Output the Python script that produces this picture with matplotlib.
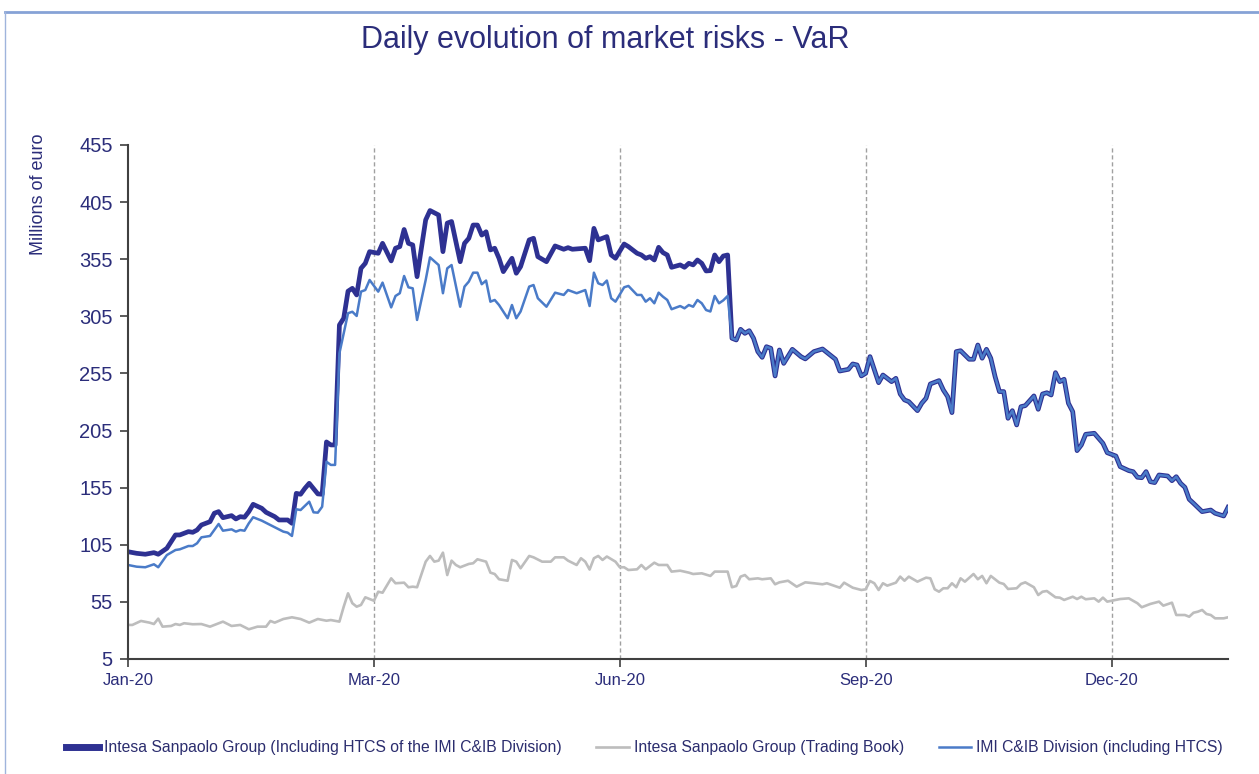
import matplotlib
matplotlib.use("Agg")
import matplotlib.pyplot as plt
from matplotlib.lines import Line2D

plt.rcParams['font.family'] = ['Liberation Sans', 'DejaVu Sans']

navy = '#2b2d7a'

# business-day index (0 = first day of 2020, 255 = last)
tick_days = [0, 57, 114, 171, 228]
tick_labels = ['Jan-20', 'Mar-20', 'Jun-20', 'Sep-20', 'Dec-20']
grid_days = [57, 114, 171, 228]

# Intesa Sanpaolo Group (incl. HTCS) - before mid-July
group_days = [0, 2, 4, 6, 7, 9, 10, 11, 12, 14, 15, 16, 17, 19, 20, 21, 22, 24, 25, 26,
              27, 28, 29, 31, 32, 34, 35, 37, 38, 39, 40, 41, 42, 44, 45, 46, 47, 48, 49, 50,
              51, 52, 53, 54, 55, 56, 58, 59, 61, 62, 63, 64, 65, 66, 67, 69, 70, 72, 73, 74,
              75, 77, 78, 79, 80, 81, 82, 83, 84, 85, 86, 87, 89, 90, 91, 93, 94, 95, 97, 99,
              101, 102, 103, 106, 107, 108, 109, 111, 112, 113, 115, 116, 118, 119, 120, 121,
              122, 123, 124, 125, 126, 128, 129, 130, 131, 132, 133, 134, 135, 136, 137, 138, 139]
group_vals = [98.9, 97.5, 96.7, 98.1, 96.7, 101.9, 107.7, 113.6, 113.6, 116.5, 115.9, 117.9,
              122.3, 125.2, 132.6, 134, 128.7, 130.5, 127.6, 129.6, 129.1, 134, 140.4, 136.9,
              133.4, 129.6, 126.7, 126.7, 123.8, 150, 149.2, 154.4, 158.8, 149.5, 149.2, 195,
              192.4, 192.4, 297.4, 303.3, 327, 329.5, 323.7, 347, 351.4, 361.6, 360.2, 368.9,
              353.5, 364.6, 366, 381, 368.9, 367.5, 339.7, 389.4, 397.6, 393.7, 361.6, 386.6,
              388, 352.8, 368.9, 373.3, 384.9, 384.9, 376.1, 379, 363.1, 364.6, 355.8, 344.1,
              355.8, 342.7, 348.5, 371.9, 373.3, 357.2, 352.8, 366.6, 363.7, 365.1, 363.7,
              364.6, 353.7, 382, 371.9, 374.8, 358.7, 355.8, 368.3, 366, 360.2, 358.7, 355.8,
              357.2, 354.3, 365.4, 360.8, 358.7, 347.9, 350, 347.9, 351.4, 350, 354.3, 351.4,
              344.7, 345, 358.7, 352.8, 357.8, 358.7]

# IMI C&IB Division (incl. HTCS) - before mid-July
imi_days = [0, 2, 4, 6, 7, 9, 11, 12, 14, 15, 16, 17, 19, 21, 22, 24, 25, 26, 27, 28,
            29, 31, 33, 35, 36, 37, 38, 39, 40, 42, 43, 44, 45, 46, 47, 48, 49, 50, 51, 52,
            53, 54, 55, 56, 58, 59, 61, 62, 63, 64, 65, 66, 67, 69, 70, 72, 73, 74, 75, 77,
            78, 79, 80, 81, 82, 83, 84, 85, 86, 88, 89, 90, 91, 93, 94, 95, 97, 99, 101, 102,
            104, 106, 107, 108, 109, 110, 111, 112, 113, 115, 116, 118, 119, 120, 121, 122,
            123, 124, 125, 126, 128, 129, 130, 131, 132, 133, 134, 135, 136, 137, 138, 139]
imi_vals = [87.3, 85.8, 85.3, 87.9, 85.3, 96, 100.4, 101, 103.9, 103.9, 106.3, 111.5, 112.7,
            123.2, 117.3, 118.5, 116.5, 117.9, 117.3, 123.8, 129.1, 126.1, 122.3, 118.5, 116.5,
            115.6, 112.7, 136.1, 135.4, 142.7, 133.4, 133.1, 138.3, 177.7, 174.9, 174.9, 272.6,
            290, 307.7, 309, 305.3, 326.6, 328, 336.8, 326.6, 334.5, 312.8, 322.8, 325.2, 340.3,
            330.4, 329.5, 301.8, 336.8, 356.6, 349.9, 325.2, 347, 349.9, 313.4, 331, 335.4,
            343.2, 343.2, 333.1, 336.3, 317.8, 319.3, 314.9, 303.3, 314.9, 303.3, 309.2, 331,
            332.4, 320.8, 313.4, 325.7, 323.7, 328, 325.2, 328, 314, 343.2, 333.9, 332.4, 336.3,
            320.8, 317.8, 330.4, 331.6, 323.7, 323.7, 317.8, 320.8, 316.4, 325.7, 322.2, 319.3,
            311.2, 314, 312, 314.9, 313.4, 319.3, 316.4, 310.5, 309.2, 322.8, 316.4, 319, 322.8]

# from mid-July on the two HTCS series coincide
tail_days = [140, 141, 142, 143, 144, 145, 146, 147, 148, 149, 150, 151, 152, 154, 156, 157,
             159, 161, 164, 165, 167, 168, 169, 170, 171, 172, 174, 175, 177, 178, 179, 180,
             181, 183, 184, 185, 186, 188, 189, 190, 191, 192, 193, 195, 196, 197, 198, 199,
             200, 201, 202, 203, 204, 205, 206, 207, 208, 210, 211, 212, 213, 214, 215, 216,
             217, 218, 219, 220, 221, 222, 224, 226, 227, 229, 230, 232, 233, 234, 235, 236,
             237, 238, 239, 241, 242, 243, 244, 245, 246, 247, 249, 251, 252, 254, 255]
tail_vals = [285.8, 284.3, 293.6, 290.1, 292.4, 285.8, 274.1, 269.1, 278.4, 277, 252.8, 275.5,
             263.8, 276.1, 269.7, 267.7, 274.1, 276.4, 267.4, 257.1, 258.6, 263.3, 262.4, 252.8,
             255.1, 269.7, 246.9, 253.6, 247.8, 250.7, 237, 231.8, 230.3, 222.4, 228.9, 233.3,
             245.8, 248.7, 240.5, 234.7, 220.7, 274.1, 274.9, 267.4, 267.4, 279.9, 268.3, 276.1,
             268.3, 252.2, 239.1, 239.1, 215.7, 222.4, 209.9, 225.9, 226.8, 235.3, 223.6, 237,
             238.1, 236.1, 255.7, 247.8, 249.9, 228.9, 221.5, 187.4, 192.4, 201.7, 202.6, 193.8,
             185.6, 182.7, 173.4, 169.9, 169, 164.1, 163.7, 169, 160.2, 159.4, 166.1, 165.2,
             161.1, 164.6, 158.8, 155.3, 144.8, 141.3, 134, 135.4, 132.6, 130.2, 137.8]

# Intesa Sanpaolo Group (Trading Book)
tb_days = [0, 1, 3, 5, 6, 7, 8, 10, 11, 12, 13, 15, 17, 19, 22, 24, 26, 28, 30, 32, 33, 34,
           36, 38, 40, 42, 44, 46, 47, 49, 50, 51, 52, 53, 54, 55, 57, 58, 59, 61, 62, 64, 65,
           66, 67, 69, 70, 71, 72, 73, 74, 75, 76, 77, 79, 80, 81, 83, 84, 85, 86, 88, 89, 90,
           91, 93, 94, 96, 98, 99, 101, 102, 104, 105, 106, 107, 108, 109, 110, 111, 113, 114,
           115, 116, 118, 119, 120, 122, 123, 125, 126, 128, 130, 131, 133, 135, 136, 139, 140,
           141, 142, 143, 144, 146, 147, 149, 150, 151, 153, 155, 157, 159, 161, 162, 165, 166,
           168, 170, 171, 172, 173, 174, 175, 176, 178, 179, 180, 181, 183, 185, 186, 187, 188,
           189, 190, 191, 192, 193, 194, 196, 197, 198, 199, 200, 202, 203, 204, 206, 207, 208,
           210, 211, 212, 213, 215, 216, 217, 219, 220, 221, 222, 224, 225, 226, 227, 230, 232,
           234, 235, 237, 239, 240, 242, 243, 245, 246, 247, 248, 249, 250, 251, 252, 254, 255]
tb_vals = [34.8, 34.8, 38.3, 36.8, 35.6, 40.3, 33.3, 33.9, 35.6, 34.8, 36.3, 35.4, 35.6, 33.3,
           37.7, 33.9, 34.8, 31, 33.3, 33.3, 38.3, 36.8, 40, 41.5, 40, 36.8, 40, 38.5, 39.1,
           37.7, 50.8, 62.5, 53.8, 50.8, 52.3, 59, 56, 63.9, 63, 75.6, 71.3, 71.8, 67.8, 68.3,
           67.8, 90.2, 95.2, 90.2, 91.1, 98.1, 78.5, 91.1, 87.3, 85.3, 88.2, 88.8, 92.3, 90.2,
           80.6, 79.4, 74.8, 73.5, 91.7, 90.2, 84.4, 95.2, 94, 90.2, 90.2, 94, 94, 91.1, 87.3,
           93.2, 90.2, 83.3, 93.2, 95.2, 91.7, 94.7, 90.2, 85.3, 85.3, 82.9, 83.5, 87.3, 83.5,
           89.3, 87.3, 87.3, 81.5, 82.3, 80.6, 79.4, 80, 77.7, 81.5, 81.5, 67.8, 68.9, 77.1,
           78.5, 74.8, 75.6, 74.8, 75.6, 70.4, 72.1, 73.5, 68.3, 72.1, 71.3, 70.4, 71.3, 67.4,
           71.8, 67.4, 65.4, 66, 73.3, 71.3, 65.4, 71.3, 69.2, 71.8, 77.1, 73.5, 77.1, 72.7,
           76.2, 75.6, 66, 63.9, 66.9, 66.9, 71.3, 67.8, 75.6, 72.7, 79.4, 74.8, 77.7, 71.3,
           77.7, 71.8, 70.7, 66.3, 66.9, 70.7, 72.1, 67.8, 61, 63.9, 64.5, 59, 58.7, 56.7, 59.5,
           57.5, 59.5, 57.3, 58.1, 55.2, 58.7, 55.2, 57.5, 58.1, 53.8, 50.3, 53.2, 55.2, 51.7,
           54.3, 43.5, 43.5, 42, 45.5, 46.4, 47.9, 44.4, 43.5, 40.6, 40.6, 41.5]

labels = ['Intesa Sanpaolo Group (Including HTCS of the IMI C&IB Division)',
          'Intesa Sanpaolo Group (Trading Book)',
          'IMI C&IB Division (including HTCS)']

fig = plt.figure(figsize=(12.59, 7.74), dpi=100)
ax = fig.add_axes([0.1017, 0.1486, 0.8737, 0.6641])

ax.plot(group_days + tail_days, group_vals + tail_vals, color='#2e3192', lw=3.4,
        label=labels[0], solid_joinstyle='round')
ax.plot(tb_days, tb_vals, color='#bdbdbd', lw=1.9, label=labels[1])
ax.plot(imi_days + tail_days, imi_vals + tail_vals, color='#4a7bc8', lw=1.8,
        label=labels[2])

for d in grid_days:
    ax.axvline(d, color='#a0a0a0', lw=1, ls=(0, (3, 2)), zorder=0)

ax.set_xlim(0, 255)
ax.set_ylim(5, 455)
ax.set_yticks(range(5, 456, 50))
ax.set_xticks(tick_days)
ax.set_xticklabels(tick_labels)
ax.tick_params(axis='both', colors='#404040', labelcolor=navy,
               length=6, width=1.2, direction='out')
ax.tick_params(axis='y', labelsize=14.5, pad=5)
ax.tick_params(axis='x', labelsize=12, pad=4)
for s in ['top', 'right']:
    ax.spines[s].set_visible(False)
for s in ['left', 'bottom']:
    ax.spines[s].set_color('#404040')
    ax.spines[s].set_linewidth(1.5)

ax.set_ylabel('Millions of euro', fontsize=13, color=navy)
ax.yaxis.set_label_coords(-0.074, 0.905)

fig.text(0.4805, 0.948, 'Daily evolution of market risks - VaR', fontsize=22,
         color=navy, ha='center', va='center')

leg = fig.legend(loc='center', bbox_to_anchor=(0.512, 0.034), ncol=3, frameon=False,
                 fontsize=11.3, handlelength=2.1, handletextpad=0.3, columnspacing=2.2)
for t in leg.get_texts():
    t.set_color('#2b2d6e')
leg.get_lines()[0].set_linewidth(5)

# frame lines at top and left of the figure
fig.add_artist(Line2D([5 / 1259, 1], [1 - 12 / 774, 1 - 12 / 774],
                      transform=fig.transFigure, color='#86a2d6', lw=2))
fig.add_artist(Line2D([5 / 1259, 5 / 1259], [0, 1 - 12 / 774],
                      transform=fig.transFigure, color='#9fb4dc', lw=1))

fig.savefig('out.png', dpi=100)
